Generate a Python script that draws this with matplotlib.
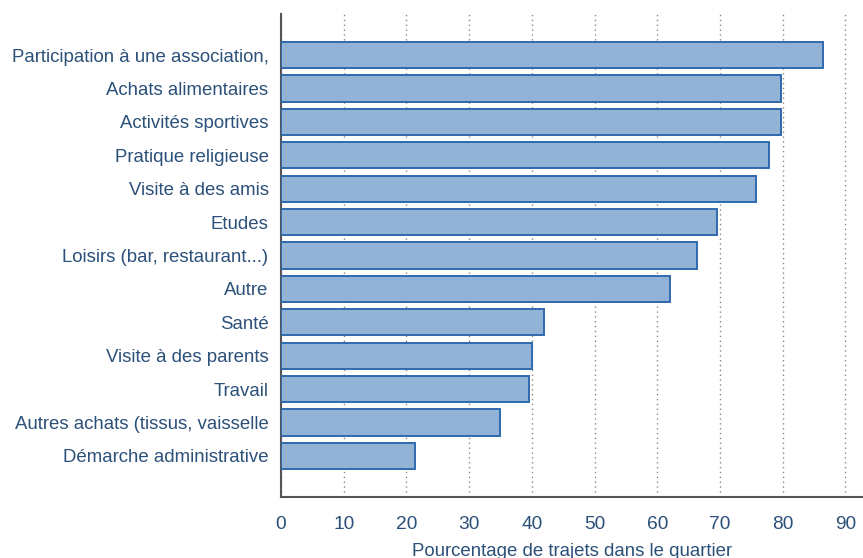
import matplotlib
matplotlib.use("Agg")
import matplotlib.pyplot as plt

categories = [
    "Participation à une association,",
    "Achats alimentaires",
    "Activités sportives",
    "Pratique religieuse",
    "Visite à des amis",
    "Etudes",
    "Loisirs (bar, restaurant...)",
    "Autre",
    "Santé",
    "Visite à des parents",
    "Travail",
    "Autres achats (tissus, vaisselle",
    "Démarche administrative",
]
values = [86.5, 79.8, 79.8, 77.8, 75.7, 69.5, 66.3, 62.1, 41.9, 40.0, 39.5, 34.9, 21.3]
xticks = [0, 10, 20, 30, 40, 50, 60, 70, 80, 90]
xlabel = "Pourcentage de trajets dans le quartier"

text_color = "#2b5079"
plt.rcParams["font.family"] = ["Liberation Sans", "DejaVu Sans"]

fig = plt.figure(figsize=(8.63, 5.58), dpi=100)
ax = fig.add_axes([281 / 863, 1 - 497 / 558, 1 - 281 / 863, (497 - 14) / 558])

y = list(range(len(categories)))
ax.barh(y, values, height=0.78, color="#92b2d6", edgecolor="#2f6aae", linewidth=1.4, zorder=3)
ax.set_ylim(len(categories) - 1 + 1.23, -1.23)
ax.set_xlim(0, 92.8)
ax.set_yticks(y)
ax.set_yticklabels(categories, fontsize=13.4, color=text_color)
ax.set_xticks(xticks)
ax.set_xticklabels([str(t) for t in xticks], fontsize=13.8, color=text_color)
ax.tick_params(axis="both", length=0)
ax.tick_params(axis="y", pad=9)
ax.tick_params(axis="x", pad=14)
ax.grid(axis="x", linestyle=(0, (1, 2.5)), color="#888888", linewidth=1, zorder=0)
ax.set_axisbelow(True)
for s in ["top", "right"]:
    ax.spines[s].set_visible(False)
ax.spines["left"].set_color("#555555")
ax.spines["bottom"].set_color("#555555")
ax.spines["left"].set_linewidth(1.5)
ax.spines["bottom"].set_linewidth(1.5)
ax.set_xlabel(xlabel, fontsize=13.4, color=text_color, labelpad=7)

fig.savefig("out.png", dpi=100)
